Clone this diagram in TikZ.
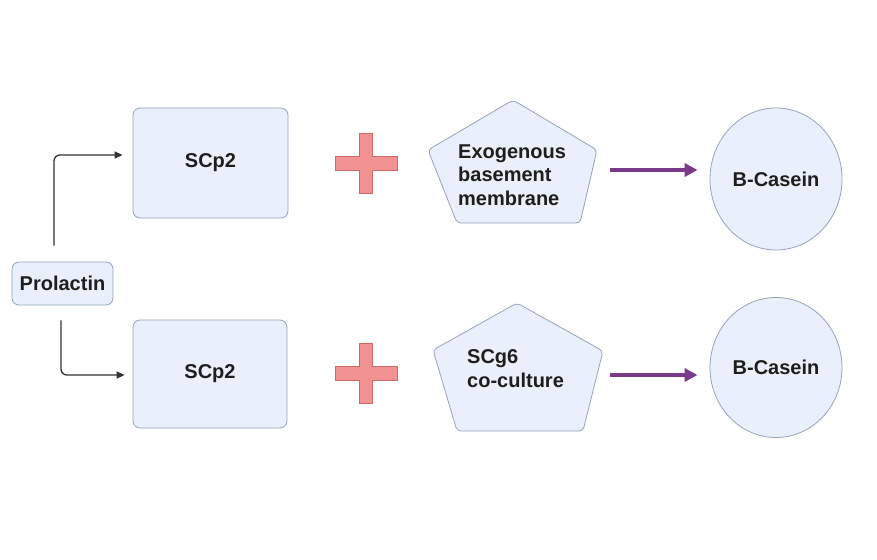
\documentclass[tikz,border=0pt]{standalone}
\usepackage{fontspec}
\setmainfont{Liberation Sans}
\usetikzlibrary{arrows.meta,shapes.geometric}

\definecolor{cellfill}{RGB}{233,240,251}
\definecolor{celledge}{RGB}{150,163,184}
\definecolor{plusfill}{RGB}{242,146,146}
\definecolor{plusedge}{RGB}{205,105,105}
\definecolor{flowpurple}{RGB}{122,58,138}
\definecolor{linkgray}{RGB}{50,50,50}
\definecolor{labelink}{RGB}{30,30,30}

\tikzset{
  lbl/.style={font=\fontsize{20}{23.5}\selectfont\bfseries, text=labelink},
  cell/.style={lbl, draw=celledge, fill=cellfill, line width=0.8pt, rounded corners=7pt, inner sep=0pt},
  bubble/.style={lbl, ellipse, draw=celledge, fill=cellfill, line width=0.8pt, inner sep=0pt},
  pentagon/.style={draw=celledge, fill=cellfill, line width=0.8pt, rounded corners=4pt},
  link/.style={draw=linkgray, line width=1.3pt, rounded corners=6pt,
    -{Triangle[length=8pt,width=7pt]}},
  flow/.style={draw=flowpurple, line width=3.2pt,
    -{Triangle[length=13pt,width=13pt]}, shorten >=12pt},
  pics/plussign/.style={code={
    \draw[fill=plusfill, draw=plusedge, line width=1pt]
      (-31,-7) -- (-6.5,-7) -- (-6.5,-30) -- (6.5,-30) -- (6.5,-7) -- (31,-7)
      -- (31,7) -- (6.5,7) -- (6.5,30) -- (-6.5,30) -- (-6.5,7) -- (-31,7) -- cycle;
  }},
}

\begin{document}
\begin{tikzpicture}[x=1pt,y=-1pt]
\useasboundingbox (0,0) rectangle (877,559);
\fill[white] (0,0) rectangle (877,559);

% hormone source
\node[cell, minimum width=101pt, minimum height=43pt] (pro) at (62.5,283.5) {Prolactin};

% cell lines
\node[cell, minimum width=155pt, minimum height=110pt] (scA) at (210.5,163) {SCp2};
\node[cell, minimum width=154pt, minimum height=108pt] (scB) at (210,374) {SCp2};

% plus signs
\pic at (366,163) {plussign};
\pic at (366,373) {plussign};

% upper pentagon: exogenous basement membrane
\draw[pentagon] (513,100) -- (597,150) -- (580,223) -- (457,223) -- (428,150) -- cycle;
\node[lbl, align=left, anchor=base west, inner sep=0pt] (ebm) at (458,205)
  {Exogenous\\basement\\membrane};
\coordinate (flowA) at (610,170);

% lower pentagon: SCg6 co-culture
\draw[pentagon] (517,303) -- (603,351) -- (583,431) -- (457,431) -- (433,350) -- cycle;
\node[lbl, align=left, anchor=base west, inner sep=0pt] (scg) at (467,387)
  {SCg6\\co-culture};
\coordinate (flowB) at (610,375);

% products
\node[bubble, minimum width=132pt, minimum height=142pt] (bcA) at (776,179) {B-Casein};
\node[bubble, minimum width=132pt, minimum height=140pt] (bcB) at (776,367.5) {B-Casein};

% prolactin feeds both cell lines
\draw[link] ([xshift=-8.5pt,yshift=16pt]pro.north) |- ([xshift=-10pt,yshift=8pt]scA.west);
\draw[link] ([xshift=-1.5pt,yshift=-15pt]pro.south) |- ([xshift=-8pt,yshift=-1pt]scB.west);

% outputs
\draw[flow] (flowA) -- (flowA -| bcA.west);
\draw[flow] (flowB) -- (flowB -| bcB.west);
\end{tikzpicture}
\end{document}
